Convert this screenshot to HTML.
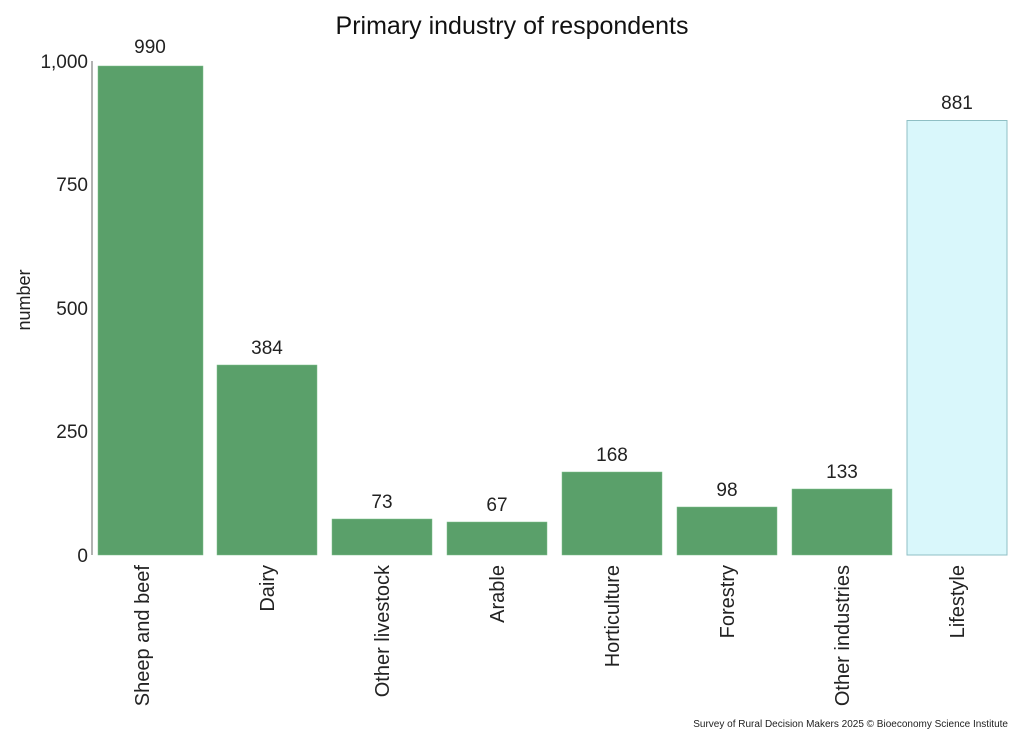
<!DOCTYPE html><html><head><style>body{margin:0;background:#fff}</style></head><body>
<svg width="1024" height="744" xmlns="http://www.w3.org/2000/svg" font-family="Liberation Sans, sans-serif">
<text x="512" y="34" font-size="25" text-anchor="middle" fill="#111">Primary industry of respondents</text>
<line x1="92" y1="61" x2="92" y2="555" stroke="#999" stroke-width="1.5"/>
<g font-size="19" fill="#222" text-anchor="end">
<text x="88" y="68">1,000</text><text x="88" y="191">750</text><text x="88" y="315">500</text><text x="88" y="438">250</text><text x="88" y="562">0</text>
</g>
<text transform="translate(30,300) rotate(-90)" font-size="18" text-anchor="middle" fill="#222">number</text>
<g fill="#5aa06a" stroke="#7fbf8c" stroke-width="0.5">
<rect x="98" y="66" width="105" height="489"/>
<rect x="217" y="365" width="100" height="190"/>
<rect x="332" y="519" width="100" height="36"/>
<rect x="447" y="522" width="100" height="33"/>
<rect x="562" y="472" width="100" height="83"/>
<rect x="677" y="507" width="100" height="48"/>
<rect x="792" y="489" width="100" height="66"/>
</g>
<rect x="907" y="120.5" width="100" height="434.5" fill="#d9f7fb" stroke="#8fbfc4" stroke-width="1"/>
<g font-size="19" fill="#222" text-anchor="middle">
<text x="150" y="53">990</text><text x="267" y="354">384</text><text x="382" y="508">73</text><text x="497" y="511">67</text><text x="612" y="461">168</text><text x="727" y="496">98</text><text x="842" y="478">133</text><text x="957" y="109">881</text>
</g>
<g font-size="20" fill="#222" text-anchor="end">
<text transform="translate(142,565) rotate(-90)" dy="7">Sheep and beef</text>
<text transform="translate(267,565) rotate(-90)" dy="7">Dairy</text>
<text transform="translate(382,565) rotate(-90)" dy="7">Other livestock</text>
<text transform="translate(497,565) rotate(-90)" dy="7">Arable</text>
<text transform="translate(612,565) rotate(-90)" dy="7">Horticulture</text>
<text transform="translate(727,565) rotate(-90)" dy="7">Forestry</text>
<text transform="translate(842,565) rotate(-90)" dy="7">Other industries</text>
<text transform="translate(957,565) rotate(-90)" dy="7">Lifestyle</text>
</g>
<text x="1008" y="727" font-size="10" text-anchor="end" fill="#222">Survey of Rural Decision Makers 2025 © Bioeconomy Science Institute</text>
</svg></body></html>
